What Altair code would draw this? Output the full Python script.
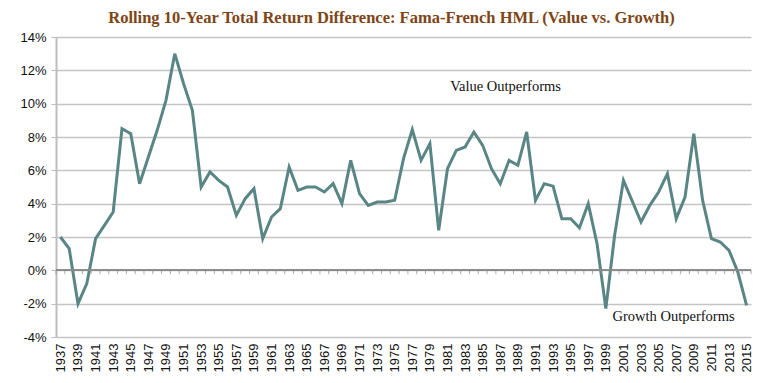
import altair as alt
import pandas as pd

years = list(range(1937, 2016))
values = [
    2.0, 1.3, -2.0, -0.8, 1.9, 2.7, 3.5, 8.5, 8.2, 5.2,   # 1937-1946
    6.8, 8.4, 10.2, 13.0, 11.2, 9.6, 5.0, 5.9, 5.4, 5.0,  # 1947-1956
    3.3, 4.3, 4.9, 1.9, 3.2, 3.7, 6.2, 4.8, 5.0, 5.0,     # 1957-1966
    4.7, 5.2, 4.0, 6.6, 4.6, 3.9, 4.1, 4.1, 4.2, 6.7,     # 1967-1976
    8.45, 6.6, 7.6, 2.4, 6.1, 7.2, 7.4, 8.3, 7.5, 6.1,    # 1977-1986
    5.2, 6.6, 6.3, 8.3, 4.2, 5.2, 5.05, 3.1, 3.1, 2.55,   # 1987-1996
    4.0, 1.6, -2.3, 2.1, 5.4, 4.15, 2.9, 3.9, 4.7, 5.8,   # 1997-2006
    3.1, 4.4, 8.2, 4.2, 1.9, 1.7, 1.2, -0.1, -2.1,        # 2007-2015
]
label_years = list(range(1937, 2016, 2))
tick_bounds = [y - 0.5 for y in range(1937, 2017)]
y_ticks = [-4, -2, 0, 2, 4, 6, 8, 10, 12, 14]

ann_text = ["Value Outperforms", "Growth Outperforms"]
ann_x = [1987.6, 2006.7]
ann_y = [11.0, -2.8]

title_text = "Rolling 10-Year Total Return Difference: Fama-French HML (Value vs. Growth)"

df = pd.DataFrame({"year": years, "value": values})
ticks_df = pd.DataFrame({"b": tick_bounds})
ann_df = pd.DataFrame({"text": ann_text, "x": ann_x, "y": ann_y})

xscale = alt.Scale(domain=[1936.5, 2015.5], nice=False, zero=False)
yscale = alt.Scale(domain=[-4, 14], nice=False, zero=False)

xaxis = alt.Axis(values=label_years, format="d", labelAngle=-90,
                 grid=False, ticks=False, domain=False,
                 labelPadding=6, labelFont="Liberation Sans",
                 labelFontSize=13, labelColor="#111111", title=None,
                 labelOverlap=False)
yaxis = alt.Axis(values=y_ticks, labelExpr="datum.value + '%'",
                 grid=True, gridColor="#C4C4C4", gridWidth=1.5,
                 domain=True, domainColor="#BDBDBD", domainWidth=2,
                 ticks=True, tickColor="#BDBDBD", tickSize=5,
                 labelPadding=5, labelFont="Liberation Sans",
                 labelFontSize=13, labelColor="#111111", title=None,
                 labelOverlap=False)

line = alt.Chart(df).mark_line(color="#5A8585", strokeWidth=3).encode(
    x=alt.X("year:Q", scale=xscale, axis=xaxis),
    y=alt.Y("value:Q", scale=yscale, axis=yaxis),
)

zero = alt.Chart(df).mark_rule(color="#8A8A8A", strokeWidth=1.2).encode(
    y=alt.Y(datum=0, scale=yscale, axis=yaxis),
)

zticks = alt.Chart(ticks_df).mark_tick(orient="vertical", color="#8A8A8A",
                                       size=4, thickness=1, yOffset=2).encode(
    x=alt.X("b:Q", scale=xscale, axis=xaxis),
    y=alt.Y(datum=0, scale=yscale, axis=yaxis),
)

ann = alt.Chart(ann_df).mark_text(font="Liberation Serif", fontSize=14.5,
                                  color="#111111").encode(
    x=alt.X("x:Q", scale=xscale, axis=xaxis),
    y=alt.Y("y:Q", scale=yscale, axis=yaxis),
    text="text:N",
)

chart = alt.layer(line, zero, zticks, ann).properties(
    width=695, height=300,
    title=alt.TitleParams(title_text, font="Liberation Serif", fontSize=16.5,
                          fontWeight="bold", color="#7E4516", anchor="middle",
                          dx=-12, offset=5),
    autosize=alt.AutoSizeParams(type="none"),
    padding={"left": 48, "top": 29, "right": 8, "bottom": 40},
).configure_view(stroke=None).configure_axis(labelOverlap=False)

chart.save("out.html", embed_options={"renderer": "svg", "actions": False})
